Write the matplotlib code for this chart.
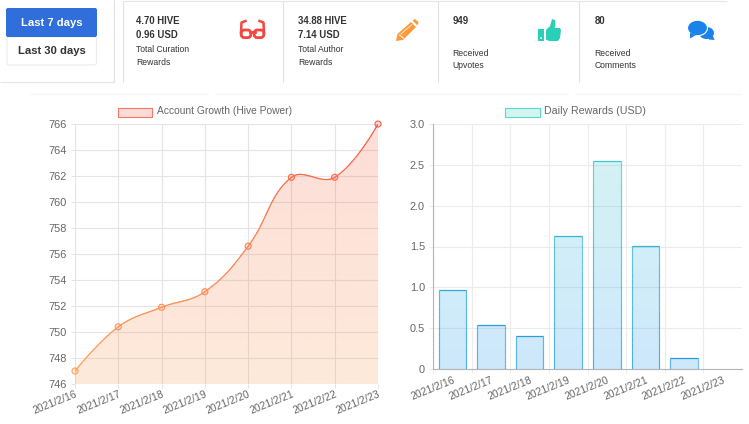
import matplotlib
matplotlib.use("Agg")
import matplotlib.pyplot as plt
import numpy as np
from matplotlib.collections import LineCollection
from matplotlib.patches import Circle, Ellipse, FancyBboxPatch, PathPatch, Polygon, Rectangle
from matplotlib.path import Path

plt.rcParams["font.family"] = ["Liberation Sans", "DejaVu Sans"]

dates = ["2021/2/16", "2021/2/17", "2021/2/18", "2021/2/19",
         "2021/2/20", "2021/2/21", "2021/2/22", "2021/2/23"]
growth = [747.0, 750.4, 751.9, 753.1, 756.6, 761.9, 761.9, 766.0]
rewards = [0.97, 0.54, 0.41, 1.63, 2.55, 1.51, 0.13, 0]
growth_ticks = [746, 748, 750, 752, 754, 756, 758, 760, 762, 764, 766]
reward_ticks = [0, 0.5, 1.0, 1.5, 2.0, 2.5, 3.0]
reward_tick_labels = ["0", "0.5", "1.0", "1.5", "2.0", "2.5", "3.0"]
growth_label = "Account Growth (Hive Power)"
rewards_label = "Daily Rewards (USD)"

W, H = 749, 424
GRID = "#e4e4e4"
TEXT = "#666666"
DARK = "#333333"


def px(pts):
    return pts * 0.72


fig = plt.figure(figsize=(W / 100, H / 100), dpi=100, facecolor="white")

# page furniture is drawn in pixel coordinates
bg = fig.add_axes([0, 0, 1, 1])
bg.set_xlim(0, W)
bg.set_ylim(H, 0)
bg.axis("off")


def hline(x0, x1, y, color="#e6e6e6"):
    bg.plot([x0, x1], [y, y], color=color, lw=0.8, solid_capstyle="butt")


def vline(x, y0, y1, color="#e0e0e0"):
    bg.plot([x, x], [y0, y1], color=color, lw=0.8, solid_capstyle="butt")


# selector box and buttons
hline(0, 114, 82)
vline(114, 0, 82)
bg.add_patch(FancyBboxPatch((7, 37), 89.5, 28, boxstyle="round,pad=0,rounding_size=2",
                            fc="white", ec="#ececec", lw=0.8))
bg.add_patch(FancyBboxPatch((6, 8), 91, 29, boxstyle="round,pad=0,rounding_size=2",
                            fc="#2f6edb", ec="none"))
bg.text(51.5, 23, "Last 7 days", color="white", fontsize=px(11.2), fontweight="bold",
        ha="center", va="center")
bg.text(51.5, 51, "Last 30 days", color=DARK, fontsize=px(11.2), fontweight="bold",
        ha="center", va="center")

# stat cards
for x in [122.5, 283, 437.5, 579]:
    vline(x, 1, 82)
hline(123, 727, 0.5)
hline(30, 208, 93.5, "#f6f6f6")
hline(215, 568, 93.5, "#f6f6f6")
hline(575, 742, 93.5, "#f6f6f6")

cards = [
    (136.5, ["4.70 HIVE", "0.96 USD"], ["Total Curation", "Rewards"], 50),
    (298, ["34.88 HIVE", "7.14 USD"], ["Total Author", "Rewards"], 50),
    (452.5, ["949"], ["Received", "Upvotes"], 53),
    (594.5, ["80"], ["Received", "Comments"], 53),
]
for x, heads, subs, y_sub in cards:
    for i, s in enumerate(heads):
        bg.text(x, 20.5 + i * 14, s, color=DARK, fontsize=px(9.6), fontweight="bold", va="center")
    for i, s in enumerate(subs):
        bg.text(x, y_sub + i * 12.7, s, color=DARK, fontsize=px(8.7), va="center")

# glasses
RED = "#f4473f"
for cx in [246, 259]:
    bg.add_patch(FancyBboxPatch((cx - 4.8, 30), 9.6, 7.6, boxstyle="round,pad=0,rounding_size=3",
                                fc="none", ec=RED, lw=2))
bg.plot([250, 255], [31.5, 31.5], color=RED, lw=2)
bg.plot([241, 241.5, 245.5], [33, 22.5, 21], color=RED, lw=1.8)
bg.plot([264, 263.5, 259.5], [33, 22.5, 21], color=RED, lw=1.8)

# pencil
ORANGE = "#fd9a3c"
bg.add_patch(Polygon([(396, 41), (397.5, 34), (411, 22), (416, 27), (403, 40)],
                     fc=ORANGE, ec="none"))
bg.add_patch(Polygon([(412.5, 20.5), (415, 19), (418.5, 22), (417.5, 25.5)],
                     fc=ORANGE, ec="none"))
bg.plot([399.5, 404], [35, 38.5], color="white", lw=0.7)
bg.plot([401, 412], [34, 24.5], color="white", lw=0.5)

# thumbs up
TEAL = "#2bcfb8"
bg.add_patch(Rectangle((538, 29), 6, 12, fc=TEAL, ec="none"))
bg.add_patch(Circle((541, 38), 1, fc="white", ec="none"))
bg.add_patch(Polygon([(546, 30), (550, 26), (552, 19), (555, 20), (555.5, 25), (554.5, 28),
                      (560, 28), (561, 30), (560, 38), (558, 41), (549, 41), (546, 39.5)],
                     fc=TEAL, ec="none"))

# comments
BLUE = "#1a82e8"
bg.add_patch(Ellipse((706.5, 33), 15, 12, fc=BLUE, ec="none"))
bg.add_patch(Polygon([(708, 37), (713, 36), (714.5, 40), (709, 39.5)], fc=BLUE, ec="none"))
bg.add_patch(Ellipse((697.5, 28), 20, 15.5, fc=BLUE, ec="white", lw=0.8))
bg.add_patch(Polygon([(690, 33), (696, 35), (690, 38.5)], fc=BLUE, ec="none"))

# legends
bg.add_patch(Rectangle((117.5, 107.5), 34, 9, fc="#fcdcd6", ec="#f87868", lw=0.8))
bg.text(157, 111.5, growth_label, color=TEXT, fontsize=px(10.3), va="center")
bg.add_patch(Rectangle((504.5, 107.5), 35, 9, fc="#d2f5ef", ec="#58d8cc", lw=0.8))
bg.text(544.5, 111.5, rewards_label, color=TEXT, fontsize=px(10.6), va="center")


def chart_axes(left, right, top, bottom, grid):
    ax = fig.add_axes([left / W, 1 - bottom / H, (right - left) / W, (bottom - top) / H])
    ax.patch.set_alpha(0)
    for s in ax.spines.values():
        s.set_visible(False)
    ax.set_axisbelow(True)
    ax.grid(True, color=grid, lw=0.8)
    ax.tick_params(length=3.2, width=0.7, color=grid, labelcolor=TEXT, labelsize=px(11), pad=2.5)
    return ax


def gradient_rgba(top, bottom, alpha):
    rows = np.linspace(0, 1, 128)[:, None]
    rgb = (1 - rows) * np.array(top) + rows * np.array(bottom)
    return np.dstack([rgb[:, None, :].repeat(2, axis=1), np.full((128, 2), alpha)])


def mix(top, bottom, frac):
    return (1 - frac) * np.array(top) + frac * np.array(bottom)


# left chart
ax1 = chart_axes(75, 378, 124, 384, GRID)
ax1.set_xlim(0, 7)
ax1.set_ylim(746, 766)
ax1.set_yticks(growth_ticks)
ax1.set_xticks(range(8))
ax1.set_xticklabels(dates, rotation=22, ha="right", rotation_mode="anchor", color=TEXT, fontsize=px(10.4))
ax1.tick_params(axis="x", pad=0.5)

# bezier control points the way Chart.js does them, tension 0.4, in pixel space
xs = np.arange(8) * 303 / 7
ys = (np.array(growth) - 746) * 13
pts = np.column_stack([xs, ys])
ctrl_prev = pts.copy()
ctrl_next = pts.copy()
for i in range(1, 7):
    d01 = np.hypot(*(pts[i] - pts[i - 1]))
    d12 = np.hypot(*(pts[i + 1] - pts[i]))
    span = pts[i + 1] - pts[i - 1]
    ctrl_prev[i] = pts[i] - 0.4 * d01 / (d01 + d12) * span
    ctrl_next[i] = pts[i] + 0.4 * d12 / (d01 + d12) * span

t = np.linspace(0, 1, 30)[:, None]
curve = []
for i in range(7):
    curve.append((1 - t) ** 3 * pts[i] + 3 * (1 - t) ** 2 * t * ctrl_next[i]
                 + 3 * (1 - t) * t ** 2 * ctrl_prev[i + 1] + t ** 3 * pts[i + 1])
curve = np.vstack(curve)
curve_x = curve[:, 0] * 7 / 303
curve_y = curve[:, 1] / 13 + 746

FILL_TOP, FILL_BOTTOM = (0.97, 0.35, 0.24), (0.98, 0.59, 0.27)
LINE_TOP, LINE_BOTTOM = (0.98, 0.36, 0.28), (1.0, 0.65, 0.35)

im = ax1.imshow(gradient_rgba(FILL_TOP, FILL_BOTTOM, 0.2), extent=(0, 7, 746, 766),
                aspect="auto", origin="upper", zorder=2)
poly = np.vstack([np.column_stack([curve_x, curve_y]), [7, 746], [0, 746]])
clip = PathPatch(Path(poly), fc="none", ec="none", transform=ax1.transData)
ax1.add_patch(clip)
im.set_clip_path(clip)
ax1.set_xlim(0, 7)
ax1.set_ylim(746, 766)

fracs = (766 - curve_y) / 20
segs = np.stack([np.column_stack([curve_x[:-1], curve_y[:-1]]),
                 np.column_stack([curve_x[1:], curve_y[1:]])], axis=1)
ax1.add_collection(LineCollection(segs, colors=[mix(LINE_TOP, LINE_BOTTOM, f) for f in fracs[:-1]],
                                  lw=0.85, zorder=3, capstyle="round"))
point_cols = [mix(LINE_TOP, LINE_BOTTOM, (766 - v) / 20) for v in growth]
ax1.scatter(range(8), growth, s=19, facecolors=[(*c, 0.2) for c in point_cols],
            edgecolors=point_cols, linewidths=0.8, zorder=4, clip_on=False)

# right chart
ax2 = chart_axes(433, 742, 124, 369, "#ececec")
ax2.set_xlim(0, 8)
ax2.set_ylim(0, 3)
ax2.set_yticks(reward_ticks)
ax2.set_yticklabels(reward_tick_labels)
ax2.set_xticks(range(8))
ax2.set_xticklabels([])
ax2.spines["left"].set_visible(True)
ax2.spines["bottom"].set_visible(True)
ax2.spines["left"].set_color("#b4b4b4")
ax2.spines["bottom"].set_color("#b4b4b4")
ax2.spines["left"].set_linewidth(0.8)
ax2.spines["bottom"].set_linewidth(0.8)

BAR_TOP, BAR_BOTTOM = (0.26, 0.81, 0.77), (0.13, 0.59, 0.95)
EDGE_TOP, EDGE_BOTTOM = (0.27, 0.82, 0.78), (0.13, 0.59, 0.90)
centers = np.arange(8) + 0.5
bars = ax2.bar(centers, rewards, width=0.71, fc="none", ec="none", zorder=3)
for bar, x, v in zip(bars, centers, rewards):
    if v == 0:
        continue
    im2 = ax2.imshow(gradient_rgba(BAR_TOP, BAR_BOTTOM, 0.22), extent=(0, 8, 0, 3),
                     aspect="auto", origin="upper", zorder=2)
    im2.set_clip_path(bar)
    x0, x1 = x - 0.355, x + 0.355
    heights = np.linspace(0, v, 20)
    side_segs = []
    side_cols = []
    for sx in (x0, x1):
        for a, b in zip(heights[:-1], heights[1:]):
            side_segs.append([(sx, a), (sx, b)])
            side_cols.append((*mix(EDGE_TOP, EDGE_BOTTOM, 1 - b / 3), 0.75))
    ax2.add_collection(LineCollection(side_segs, colors=side_cols, lw=0.85, zorder=3, capstyle="butt"))
    ax2.plot([x0, x1], [v, v], color=mix(EDGE_TOP, EDGE_BOTTOM, 1 - v / 3), lw=0.9, zorder=3,
             solid_capstyle="butt")
ax2.set_xlim(0, 8)
ax2.set_ylim(0, 3)

for x, d in zip(centers, dates):
    ax2.annotate(d, xy=(x, 0), xytext=(0, -4.5), xycoords="data", textcoords="offset points",
                 rotation=22, ha="right", va="top", rotation_mode="anchor",
                 color=TEXT, fontsize=px(10.4), annotation_clip=False)

fig.savefig("out.png", dpi=100)
